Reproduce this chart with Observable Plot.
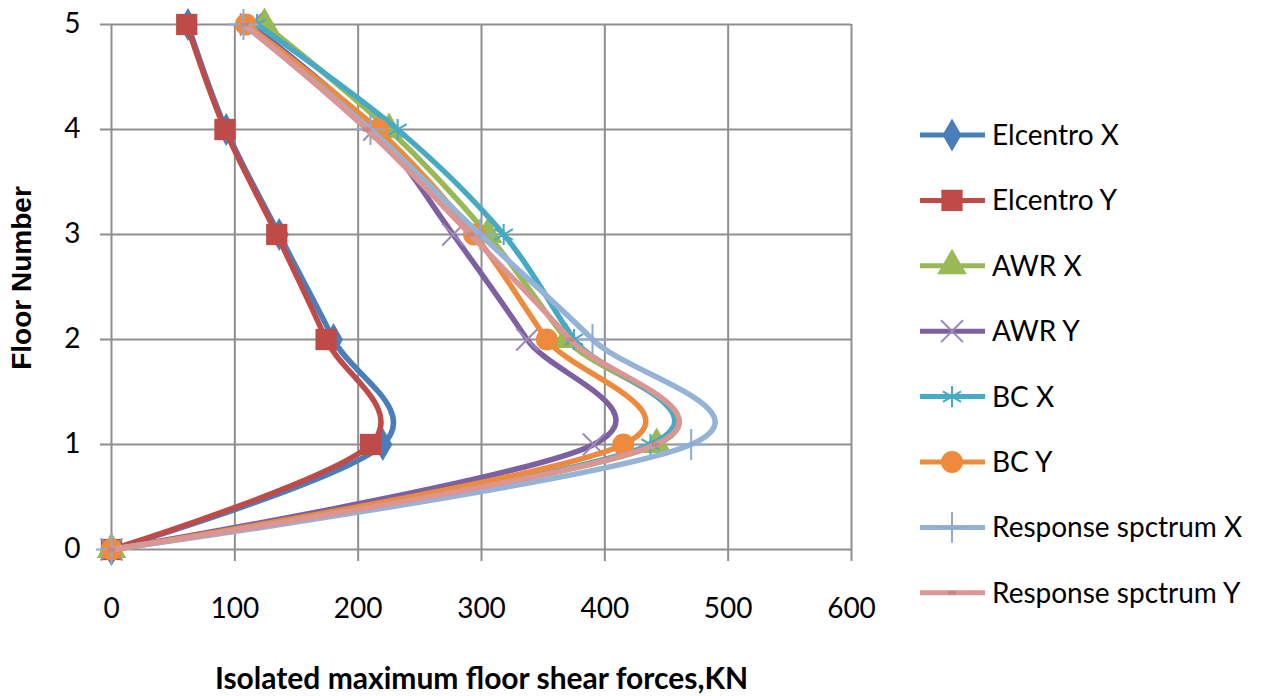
<!DOCTYPE html>
<html>
<head>
<meta charset="utf-8">
<script src="https://cdn.jsdelivr.net/npm/d3@7"></script>
<script src="https://cdn.jsdelivr.net/npm/@observablehq/plot@0.6"></script>
<style>
  html, body { margin: 0; padding: 0; background: #fff; }
  #wrap { position: relative; width: 1265px; height: 696px; overflow: hidden; }
  #chart { position: absolute; left: 0; top: 0; }
  #legend { position: absolute; left: 900px; top: 0; }
  g[aria-label="x-axis label"] text { font-weight: bold; font-size: 30px; }
  g[aria-label="y-axis label"] text { font-weight: bold; font-family: "Liberation Sans", Arial, sans-serif; font-size: 28px; }
</style>
</head>
<body>
<div id="wrap"><div id="chart"></div><svg id="legend" width="365" height="696"></svg></div>
<script>
// ---- data ----
const floors = [0, 1, 2, 3, 4, 5];
const xTicks = [0, 100, 200, 300, 400, 500, 600];
const seriesNames = ["Elcentro X", "Elcentro Y", "AWR X", "AWR Y", "BC X", "BC Y", "Response spctrum X", "Response spctrum Y"];
const elcentroX = [0, 220, 180, 136, 93, 62];
const elcentroY = [0, 210, 174, 134, 92, 61];
const awrX      = [0, 442, 369, 305, 225, 124];
const awrY      = [0, 391, 337, 277, 213, 113];
const bcX       = [0, 437, 375, 318, 232, 118];
const bcY       = [0, 415, 353, 294, 216, 109];
const rsX       = [0, 470, 390, 299, 210, 107];
const rsY       = [0, 441, 372, 291, 207, 108];
const seriesValues = [elcentroX, elcentroY, awrX, awrY, bcX, bcY, rsX, rsY];
const lineColors   = ["#4A7EBB", "#BE4B48", "#98B954", "#7D60A0", "#46AAC5", "#EE8A3C", "#95B3D7", "#D99694"];
const markerColors = ["#4A7EBB", "#BE4B48", "#98B954", "#9C89BA", "#46AAC5", "#EE8A3C", "#8EA9D8", "#C98583"];

// ---- symbols ----
const dash = {draw(ctx, size) { const r = Math.sqrt(size / Math.PI); ctx.rect(-r * 0.5, -r * 0.25, r, r * 0.5); }};
const symbols = ["diamond", "square", "triangle", "times", "asterisk", "circle", "plus", dash];
const symbolR = [10, 12, 11, 10, 10, 11, 10, 8];
const filled  = [true, true, true, false, false, true, false, true];

const rows = [];
seriesNames.forEach((name, i) => floors.forEach((f, j) => rows.push({series: name, idx: i, floor: f, force: seriesValues[i][j]})));

const marks = [
  Plot.gridX(xTicks, {stroke: "#8f8f8f", strokeOpacity: 1, strokeWidth: 2}),
  Plot.gridY(floors, {stroke: "#8f8f8f", strokeOpacity: 1, strokeWidth: 2}),
  Plot.axisX(xTicks, {tickSize: 12, tickPadding: 37, stroke: "#8f8f8f", strokeWidth: 2,
    label: "Isolated maximum floor shear forces,KN", labelArrow: "none", labelAnchor: "center", labelOffset: 139, tickFormat: d => String(d)}),
  Plot.axisY(floors, {tickSize: 11, tickPadding: 20, stroke: "#8f8f8f", strokeWidth: 2,
    label: "Floor Number", labelArrow: "none", labelAnchor: "center", labelOffset: 100, tickFormat: d => String(d)})
];
seriesNames.forEach((name, i) => {
  const d = rows.filter(r => r.idx === i);
  marks.push(Plot.line(d, {x: "force", y: "floor", stroke: lineColors[i], strokeWidth: 5.5, curve: "cardinal"}));
  marks.push(Plot.dot(d, {x: "force", y: "floor", symbol: symbols[i], r: symbolR[i],
    fill: filled[i] ? markerColors[i] : "none", stroke: markerColors[i], strokeWidth: filled[i] ? 0 : 2}));
});

const chart = Plot.plot({
  width: 900, height: 696,
  marginLeft: 111, marginRight: 49, marginTop: 24, marginBottom: 147,
  x: {domain: [0, 600], labelArrow: "none"},
  y: {domain: [0, 5], labelArrow: "none"},
  style: {fontFamily: "Lato", fontSize: "28px", color: "#000", background: "white", overflow: "visible"},
  marks
});
document.getElementById("chart").append(chart);
// strip any arrow glyphs the library might add to axis labels
d3.select(chart).selectAll('g[aria-label$="axis label"] text').each(function() {
  this.textContent = this.textContent.replace(/\s*[→←↑↓]\s*/g, "");
});
// nudge the rotated y label slightly upward along its own direction
d3.select(chart).selectAll('g[aria-label="y-axis label"] text').attr("dx", 9);

// ---- legend ----
const lg = d3.select("#legend").style("font-family", "Lato").style("font-size", "28px");
const items = lg.selectAll("g").data(seriesNames).join("g")
  .attr("transform", (d, i) => `translate(0, ${135 + i * 65.4})`);
items.append("line").attr("x1", 20).attr("x2", 85).attr("y1", 0).attr("y2", 0)
  .attr("stroke", (d, i) => lineColors[i]).attr("stroke-width", 5);
const d3sym = {diamond: d3.symbolDiamond, square: d3.symbolSquare, triangle: d3.symbolTriangle, times: d3.symbolTimes,
  asterisk: d3.symbolAsterisk, circle: d3.symbolCircle, plus: d3.symbolPlus};
items.append("path").attr("transform", "translate(52,0)")
  .attr("d", (d, i) => d3.symbol(typeof symbols[i] === "string" ? d3sym[symbols[i]] : symbols[i], Math.PI * symbolR[i] ** 2)())
  .attr("fill", (d, i) => filled[i] ? markerColors[i] : "none")
  .attr("stroke", (d, i) => markerColors[i]).attr("stroke-width", (d, i) => filled[i] ? 0 : 2);
items.append("text").attr("x", 92).attr("dy", "0.36em").attr("fill", "#000").text(d => d);
</script>
</body>
</html>
